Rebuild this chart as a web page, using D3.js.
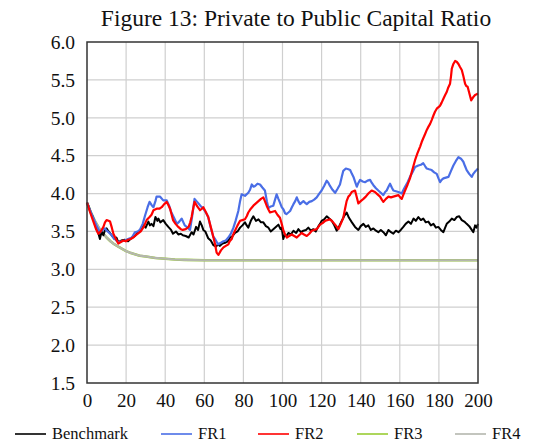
<!DOCTYPE html>
<html><head><meta charset="utf-8">
<script src="https://cdn.jsdelivr.net/npm/d3@7"></script>
<style>
body{margin:0;background:#fff;}
svg{display:block;}
text{font-family:"Liberation Serif","Times New Roman",serif;fill:#111;}
</style></head>
<body><svg id="c" width="551" height="444"></svg>
<script>
const title = "Figure 13: Private to Public Capital Ratio";
const xTicks = [0,20,40,60,80,100,120,140,160,180,200];
const yTicks = [1.5,2.0,2.5,3.0,3.5,4.0,4.5,5.0,5.5,6.0];
const seriesNames = ["Benchmark","FR1","FR2","FR3","FR4"];
const seriesColors = ["#000000","#4a6ee6","#ff0000","#99cc33","#b4b6ae"];

const benchmark = [[0,3.88],[1,3.82],[2,3.74],[3,3.69],[4,3.60],[5,3.52],[6,3.46],[6.6,3.40],[7.5,3.50],[8.4,3.45],[9.2,3.52],[10,3.54],[11,3.50],[12.6,3.45],[14,3.40],[15,3.42],[16,3.36],[17.5,3.38],[19.4,3.39],[21,3.37],[23,3.42],[24.5,3.44],[26,3.49],[27.5,3.52],[29,3.58],[30,3.55],[31.4,3.63],[32.2,3.58],[33,3.60],[34,3.57],[35,3.69],[36,3.64],[36.5,3.67],[37.5,3.62],[39,3.65],[40.3,3.60],[41.6,3.56],[43,3.52],[44,3.47],[45.5,3.50],[46.7,3.46],[48,3.47],[49,3.45],[50.5,3.44],[52,3.42],[53.5,3.49],[54.5,3.46],[55.8,3.56],[56.8,3.52],[57.8,3.63],[58.7,3.58],[59.5,3.52],[60.5,3.50],[62,3.41],[63.3,3.38],[64.6,3.32],[66,3.30],[67,3.33],[68,3.31],[69.3,3.34],[70.6,3.35],[72,3.37],[73.2,3.42],[74.5,3.44],[75.7,3.48],[77,3.50],[78.3,3.55],[79.5,3.58],[80.8,3.62],[81.7,3.58],[82.5,3.55],[83.8,3.64],[85.1,3.70],[86.4,3.64],[87.7,3.66],[89,3.62],[90.2,3.62],[91.5,3.57],[92.8,3.55],[94,3.50],[95.3,3.53],[96.6,3.56],[97.9,3.59],[99,3.53],[99.6,3.55],[100.4,3.40],[101,3.45],[102,3.44],[103,3.48],[104.3,3.46],[105.6,3.51],[107,3.48],[108.1,3.53],[109.4,3.49],[110.7,3.51],[112,3.52],[113.2,3.55],[114.5,3.51],[115.8,3.53],[117,3.50],[118.4,3.57],[119.2,3.60],[120,3.64],[121.3,3.66],[122.6,3.70],[123.9,3.67],[125.2,3.64],[126.5,3.58],[127.7,3.51],[129,3.57],[130.3,3.64],[131.5,3.70],[132.8,3.75],[134,3.68],[135.5,3.62],[137.1,3.56],[138.8,3.52],[140,3.57],[141.4,3.60],[142.6,3.56],[143.9,3.58],[145.2,3.52],[146.5,3.54],[147.8,3.51],[149,3.49],[150.3,3.52],[151.6,3.49],[152.9,3.45],[154.2,3.52],[155.5,3.49],[156.7,3.47],[158,3.51],[159.3,3.49],[160.5,3.52],[161.8,3.56],[163,3.60],[164.4,3.63],[165.7,3.60],[167,3.67],[168.2,3.64],[169.5,3.69],[170.8,3.65],[172,3.67],[173.3,3.62],[174.6,3.63],[175.9,3.58],[177.2,3.60],[178.5,3.55],[179.7,3.56],[181,3.52],[182.3,3.49],[183.2,3.55],[184,3.60],[185.3,3.63],[186.6,3.67],[187.9,3.65],[189.1,3.69],[190.4,3.70],[191.7,3.65],[193,3.63],[194.2,3.60],[195.5,3.57],[196.8,3.52],[197.6,3.49],[198.5,3.58],[199.3,3.55],[200,3.60]];

const fr1 = [[0,3.88],[2,3.75],[4,3.63],[5.3,3.55],[6.6,3.49],[8,3.52],[9.2,3.54],[10,3.51],[11,3.49],[12.3,3.46],[13.5,3.42],[15,3.38],[16,3.36],[17.7,3.37],[19.4,3.38],[21,3.40],[23,3.42],[24.5,3.49],[26,3.50],[27,3.52],[28.5,3.60],[29.7,3.71],[31,3.82],[32,3.89],[33,3.85],[34,3.82],[35,3.90],[35.6,3.96],[37.3,3.96],[39,3.91],[40.8,3.91],[42,3.84],[43,3.76],[44.5,3.68],[46,3.60],[47.2,3.63],[48.4,3.67],[49.3,3.62],[50,3.58],[51.5,3.55],[52.7,3.52],[53.8,3.70],[55,3.93],[56,3.90],[57,3.87],[58,3.84],[59.5,3.80],[61,3.74],[62,3.69],[63.3,3.55],[64.6,3.43],[65.5,3.40],[67,3.33],[68.5,3.35],[69.8,3.37],[71,3.38],[72.3,3.42],[73.6,3.47],[74.9,3.55],[76,3.64],[77.4,3.77],[78.3,3.90],[79.1,3.99],[80.8,3.97],[82.5,4.01],[83.4,4.05],[84.3,4.12],[85.2,4.09],[86,4.10],[87.2,4.13],[88.5,4.12],[89.7,4.08],[91,4.04],[92,3.90],[92.8,3.81],[94,3.83],[95.3,3.84],[96.2,3.92],[97,3.99],[97.9,3.93],[98.7,3.88],[99.6,3.82],[100.5,3.79],[101.3,3.74],[102,3.73],[103,3.75],[103.9,3.77],[104.8,3.82],[105.6,3.86],[106.5,3.90],[107.3,3.95],[108.1,3.90],[109,3.86],[109.8,3.88],[110.7,3.90],[111.5,3.88],[112.4,3.86],[113.7,3.89],[115,3.90],[116.2,3.92],[117.5,3.95],[118.8,4.00],[120,4.04],[121.3,4.10],[122.6,4.17],[123.5,4.14],[124.3,4.10],[125.6,4.05],[126.9,4.01],[128.1,4.06],[129.4,4.12],[130.3,4.22],[131.1,4.30],[132.4,4.33],[133.7,4.32],[134.6,4.31],[135.5,4.26],[136.3,4.22],[137.2,4.15],[138,4.09],[138.8,4.14],[139.7,4.18],[141,4.16],[142.2,4.15],[143.5,4.17],[144.8,4.18],[145.7,4.14],[146.5,4.11],[147.8,4.07],[149,4.04],[150.3,4.01],[151.6,3.98],[152.5,4.02],[153.3,4.04],[154.2,4.09],[155,4.13],[155.9,4.08],[156.7,4.04],[158,4.03],[159.3,4.02],[160.2,4.01],[161,4.00],[161.9,4.05],[162.7,4.09],[164,4.15],[165.2,4.22],[166.5,4.28],[167.8,4.35],[169.5,4.37],[170.8,4.38],[172,4.40],[173,4.36],[173.8,4.33],[175,4.32],[176.3,4.31],[177.6,4.28],[178.9,4.26],[179.8,4.20],[180.6,4.15],[181.4,4.18],[182.3,4.20],[183.6,4.21],[184.9,4.22],[186.2,4.30],[187.4,4.37],[188.7,4.43],[190,4.48],[191.3,4.46],[192.5,4.42],[193.4,4.36],[194.2,4.31],[195.5,4.26],[196.8,4.22],[197.6,4.26],[198.5,4.29],[199.3,4.31],[200,4.33]];

const fr2 = [[0,3.88],[1.5,3.76],[3,3.65],[4.5,3.54],[5.8,3.47],[7,3.50],[8.4,3.56],[9.2,3.62],[10,3.65],[11,3.64],[11.8,3.63],[12.7,3.55],[13.5,3.47],[14.8,3.40],[16,3.34],[17.3,3.36],[18.6,3.38],[19.8,3.37],[21,3.39],[22.3,3.40],[23.7,3.42],[25,3.45],[26,3.47],[27.5,3.50],[29,3.56],[30.5,3.65],[32,3.69],[33,3.72],[34,3.78],[35.6,3.80],[37,3.80],[38.2,3.82],[39.5,3.86],[40.8,3.89],[41.6,3.85],[42.5,3.80],[43.3,3.72],[44,3.65],[45.3,3.60],[46.7,3.56],[48,3.53],[49,3.52],[50.5,3.53],[52,3.56],[52.8,3.62],[53.5,3.69],[54.3,3.80],[55,3.89],[56.4,3.83],[57.8,3.78],[58.7,3.80],[59.5,3.82],[60.7,3.76],[62,3.69],[63.3,3.56],[64.6,3.43],[65.5,3.33],[66.3,3.22],[67.2,3.19],[68.5,3.25],[69.8,3.29],[71,3.31],[72.3,3.33],[73,3.37],[74,3.40],[74.8,3.46],[75.7,3.51],[77,3.58],[78.3,3.64],[79.5,3.65],[80.8,3.66],[81.7,3.70],[82.5,3.75],[83.8,3.80],[85.1,3.84],[86.4,3.87],[87.7,3.90],[89,3.93],[90.2,3.95],[91,3.90],[91.9,3.84],[92.8,3.79],[93.6,3.75],[94.9,3.76],[96.2,3.77],[97.4,3.72],[98.7,3.68],[99.6,3.60],[100.5,3.51],[101.3,3.46],[102.2,3.42],[103.4,3.44],[104.7,3.46],[106,3.44],[107.3,3.42],[108.5,3.45],[109.8,3.48],[111,3.46],[112.4,3.44],[113.7,3.47],[115,3.51],[116.2,3.52],[117.5,3.53],[118.4,3.56],[119.2,3.59],[120.5,3.61],[121.8,3.64],[123,3.65],[124.3,3.66],[125.6,3.63],[126.9,3.59],[127.8,3.56],[128.6,3.53],[129.8,3.60],[131.1,3.68],[132,3.80],[132.8,3.90],[133.7,3.96],[134.5,3.98],[135.4,4.02],[137.1,4.04],[138,3.95],[138.8,3.87],[140,3.90],[141.4,3.93],[142.6,3.96],[143.9,4.00],[145.6,4.04],[147.3,4.02],[148.6,3.99],[149.9,3.96],[150.8,3.92],[151.6,3.89],[152.9,3.93],[154.2,3.96],[155.5,3.95],[156.7,3.96],[158,3.97],[159.3,3.98],[160.2,3.95],[161,3.93],[161.9,3.99],[162.7,4.04],[164,4.12],[165.2,4.20],[166.5,4.32],[167.8,4.44],[169,4.53],[170.4,4.62],[171.2,4.68],[172,4.73],[173,4.79],[173.8,4.84],[174.6,4.88],[175.5,4.92],[176.3,4.97],[177.2,5.03],[178,5.08],[178.9,5.12],[179.8,5.14],[180.6,5.16],[181.4,5.20],[182.3,5.25],[183.2,5.30],[184,5.34],[184.8,5.40],[185.7,5.45],[186.2,5.55],[186.6,5.65],[187.4,5.71],[188.3,5.75],[189.1,5.74],[190,5.71],[190.8,5.67],[191.7,5.63],[192.5,5.55],[193.4,5.45],[194,5.42],[194.7,5.41],[195.5,5.33],[196.5,5.23],[197.5,5.27],[198.5,5.30],[199.3,5.31],[200,5.32]];

const fr3 = [[0,3.88],[2,3.75],[4,3.64],[6,3.55],[8,3.48],[10,3.42],[12,3.37],[13.5,3.34],[16,3.30],[18,3.27],[20,3.24],[22,3.22],[24.5,3.20],[27,3.18],[30,3.17],[35,3.15],[40,3.14],[45,3.13],[50,3.125],[60,3.12],[80,3.12],[100,3.12],[120,3.12],[140,3.12],[160,3.12],[180,3.12],[200,3.12]];

const fr4 = [[0,3.88],[2,3.75],[4,3.64],[6,3.55],[8,3.48],[10,3.42],[12,3.37],[13.5,3.34],[16,3.30],[18,3.27],[20,3.24],[22,3.22],[24.5,3.20],[27,3.18],[30,3.17],[35,3.15],[40,3.14],[45,3.13],[50,3.125],[60,3.12],[80,3.12],[100,3.12],[120,3.12],[140,3.12],[160,3.12],[180,3.12],[200,3.12]];

const seriesData = [benchmark, fr1, fr2, fr3, fr4];

const svg = d3.select("#c");
const L = 87, R = 478, T = 42, B = 383;
const x = d3.scaleLinear().domain([0,200]).range([L,R]);
const y = d3.scaleLinear().domain([1.5,6.0]).range([B,T]);

// title
svg.append("text").attr("x", 296).attr("y", 26).attr("text-anchor","middle")
  .style("font-size","23.5px").text(title);

// grid
const g = svg.append("g");
g.selectAll("line.v").data(xTicks.slice(1,-1)).join("line")
  .attr("x1", d=>x(d)).attr("x2", d=>x(d)).attr("y1", T).attr("y2", B)
  .attr("stroke","#cfcfcf").attr("stroke-width",1.2);
g.selectAll("line.h").data(yTicks.slice(1,-1)).join("line")
  .attr("y1", d=>y(d)).attr("y2", d=>y(d)).attr("x1", L).attr("x2", R)
  .attr("stroke","#cfcfcf").attr("stroke-width",1.2);

// axes labels
const yAxis = d3.axisLeft(y).tickValues(yTicks).tickFormat(d3.format(".1f")).tickSize(0).tickPadding(12);
const ya = svg.append("g").attr("transform",`translate(${L},0)`).call(yAxis);
ya.select(".domain").remove();
ya.selectAll("text").style("font-size","19.5px").style("font-family","Liberation Serif, serif").attr("fill","#111");

const xAxis = d3.axisBottom(x).tickValues(xTicks).tickFormat(d3.format("d")).tickSize(0).tickPadding(11);
const xa = svg.append("g").attr("transform",`translate(0,${B})`).call(xAxis);
xa.select(".domain").remove();
xa.selectAll("text").style("font-size","19px").style("font-family","Liberation Serif, serif").attr("fill","#111");

// lines
const line = d3.line().x(d=>x(d[0])).y(d=>y(d[1]));
const order = [3,4,0,1,2];
const widths = [2,2.2,2.2,2.6,2.2];
order.forEach(i=>{
  svg.append("path").datum(seriesData[i]).attr("d", line)
    .attr("fill","none").attr("stroke", seriesColors[i])
    .attr("stroke-width", widths[i]).attr("stroke-linejoin","round");
});

// frame
svg.append("rect").attr("x",L).attr("y",T).attr("width",R-L).attr("height",B-T)
  .attr("fill","none").attr("stroke","#333").attr("stroke-width",1.5);

// legend
const legX = [15,161,258,357,455];
const lg = svg.append("g");
seriesNames.forEach((n,i)=>{
  lg.append("line").attr("x1",legX[i]).attr("x2",legX[i]+31).attr("y1",434).attr("y2",434)
    .attr("stroke",seriesColors[i]).attr("stroke-width",1.6);
  lg.append("text").attr("x",legX[i]+37).attr("y",439).style("font-size","16.5px").text(n);
});
</script></body></html>
